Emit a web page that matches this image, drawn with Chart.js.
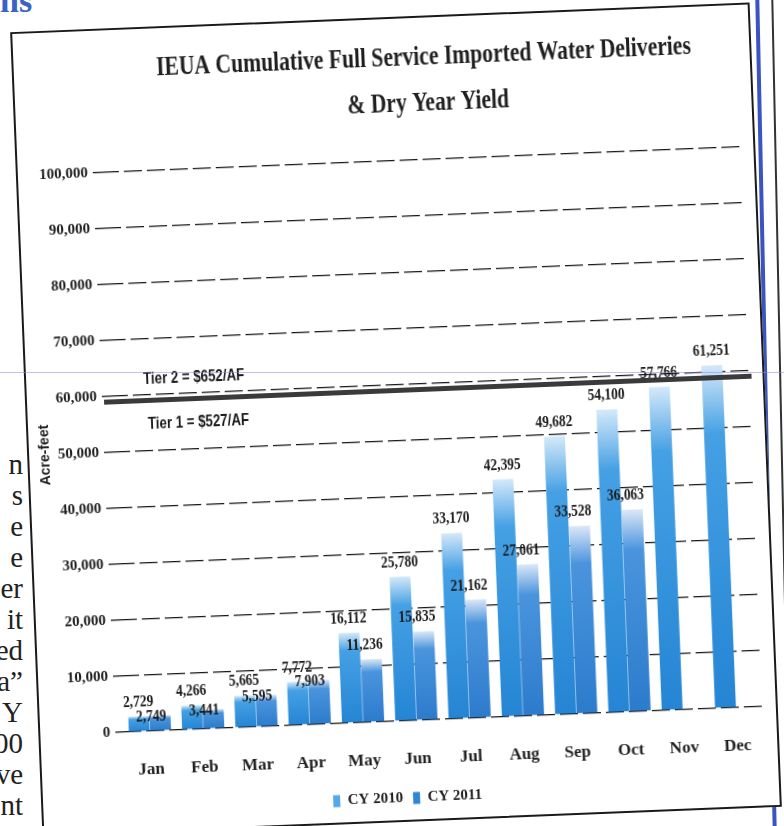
<!DOCTYPE html>
<html>
<head>
<meta charset="utf-8">
<script src="https://cdn.jsdelivr.net/npm/chart.js@4.4.1/dist/chart.umd.min.js"></script>
<style>
  html, body { margin: 0; padding: 0; background: #fff; overflow: hidden; }
  body { width: 784px; height: 826px; position: relative; }
  #heading { position: absolute; left: 0; top: -16px; font: bold 34px "Liberation Serif", serif; color: #3b63c4; line-height: 34px; }
  #sidetext { position: absolute; right: 761px; top: 449px; width: 80px; text-align: right;
              font: 29px "Liberation Serif", serif; line-height: 31px; color: #222; }
  #box { position: absolute; left: 26px; top: 17px; width: 740px; height: 805px; box-sizing: border-box;
         border: 2px solid #1a1a1a; background: #fff; transform: rotate(-2.3deg); }
  #chart { display: block; }
  #blueRule { position: absolute; left: 764px; top: -10px; width: 4px; height: 850px; background: #3a55c0; transform: rotate(-1.2deg); }
  #darkRule { position: absolute; left: 780px; top: -10px; width: 2px; height: 850px; background: #333; transform: rotate(-1.2deg); }
  #scanLine { position: absolute; left: 0; top: 372px; width: 784px; height: 1px; background: rgba(140, 140, 230, 0.55); }
</style>
</head>
<body>
<div id="heading">ns</div>
<div id="sidetext">n<br>s<br>e<br>e<br>er<br>it<br>ed<br>a”<br>Y<br>00<br>ve<br>ent</div>
<div id="blueRule"></div>
<div id="darkRule"></div>
<div id="box"><canvas id="chart" width="736" height="801"></canvas></div>
<div id="scanLine"></div>
<script>
var months = ["Jan", "Feb", "Mar", "Apr", "May", "Jun", "Jul", "Aug", "Sep", "Oct", "Nov", "Dec"];
var cy2010 = [2729, 4266, 5665, 7772, 16112, 25780, 33170, 42395, 49682, 54100, 57766, 61251];
var cy2011 = [2749, 3441, 5595, 7903, 11236, 15835, 21162, 27061, 33528, 36063, null, null];
var yTicks = [0, 10000, 20000, 30000, 40000, 50000, 60000, 70000, 80000, 90000, 100000];
var tierBoundary = 59000;
var tierLabels = ["Tier 2 = $652/AF", "Tier 1 = $527/AF"];
var titleLines = ["IEUA Cumulative Full Service Imported Water Deliveries", "& Dry Year Yield"];

var chart;

function fmt(v) {
    return v.toLocaleString("en-US");
}

// each bar fades to a pale top, like the scanned original
function barFill(light, mid, dark) {
    return function (ctx) {
        if (ctx.type !== "data" || ctx.raw == null) return mid;
        var y = ctx.chart.scales.y;
        if (!y || !ctx.chart.chartArea) return mid;
        var top = y.getPixelForValue(ctx.raw);
        var bottom = y.getPixelForValue(0);
        if (!isFinite(top) || !isFinite(bottom) || bottom - top < 1) return mid;
        var g = ctx.chart.ctx.createLinearGradient(0, top, 0, bottom);
        g.addColorStop(0, light);
        g.addColorStop(0.2, mid);
        g.addColorStop(1, dark);
        return g;
    };
}

// squeezed text, to get the narrow look of the scanned fonts
function narrowText(ctx, text, x, y, squeeze) {
    ctx.save();
    ctx.translate(x, y);
    ctx.scale(squeeze, 1);
    ctx.fillText(text, 0, 0);
    ctx.restore();
}

// the title is a condensed serif in the original, so it is drawn here squeezed
var narrowTitle = {
    id: "narrowTitle",
    afterDraw: function (c) {
        var ctx = c.ctx;
        var cx = c.width / 2 + 42;
        ctx.save();
        ctx.fillStyle = "#1f1f1f";
        ctx.font = "bold 27px 'Liberation Serif', serif";
        ctx.textAlign = "center";
        ctx.textBaseline = "middle";
        narrowText(ctx, titleLines[0], cx, 40, 0.8);
        narrowText(ctx, titleLines[1], cx + 3, 86, 0.8);
        ctx.restore();
    }
};

var tierPlugin = {
    id: "tier",
    afterDatasetsDraw: function (c) {
        var ctx = c.ctx, area = c.chartArea;
        var y = c.scales.y.getPixelForValue(tierBoundary);
        ctx.save();
        ctx.strokeStyle = "#3a3a3a";
        ctx.lineWidth = 5;
        ctx.beginPath();
        ctx.moveTo(area.left - 6, y);
        ctx.lineTo(area.right + 2, y);
        ctx.stroke();
        ctx.fillStyle = "#1a1a1a";
        ctx.font = "bold 17px 'Liberation Sans', sans-serif";
        ctx.textAlign = "left";
        ctx.textBaseline = "middle";
        narrowText(ctx, tierLabels[0], area.left + 34, y - 21, 0.78);
        narrowText(ctx, tierLabels[1], area.left + 37, y + 24, 0.78);
        ctx.restore();
    }
};

var valueLabels = {
    id: "valueLabels",
    afterDatasetsDraw: function (c) {
        var ctx = c.ctx;
        var m0 = c.getDatasetMeta(0), m1 = c.getDatasetMeta(1);
        ctx.save();
        ctx.fillStyle = "#1a1a1a";
        ctx.font = "bold 16px 'Liberation Serif', serif";
        ctx.textAlign = "center";
        ctx.textBaseline = "bottom";
        m0.data.forEach(function (bar, i) {
            if (cy2010[i] == null) return;
            narrowText(ctx, fmt(cy2010[i]), bar.x, bar.y - 6, 0.84);
        });
        m1.data.forEach(function (bar, i) {
            if (cy2011[i] == null) return;
            var above = bar.y - 6;
            // drop the label onto the bar top when it would collide with the CY 2010 label
            var other = m0.data[i].y - 6;
            if (Math.abs(other - above) < 16) {
                ctx.textBaseline = "middle";
                narrowText(ctx, fmt(cy2011[i]), bar.x - 9, bar.y + 1, 0.84);
                ctx.textBaseline = "bottom";
            } else {
                narrowText(ctx, fmt(cy2011[i]), bar.x - 6, above, 0.84);
            }
        });
        ctx.restore();
    }
};

function setup() {
    chart = new Chart(document.getElementById("chart"), {
        type: "bar",
        data: {
            labels: months,
            datasets: [{
                label: "CY 2010",
                data: cy2010,
                backgroundColor: barFill("#d4e9f9", "#45a0e4", "#2585d4"),
                legendColor: "#56a9e8"
            }, {
                label: "CY 2011",
                data: cy2011,
                backgroundColor: barFill("#dbe7f7", "#4a94dd", "#2c7bcc"),
                legendColor: "#2f86d6"
            }]
        },
        options: {
            responsive: false,
            animation: false,
            categoryPercentage: 0.8,
            barPercentage: 0.98,
            layout: { padding: { top: 142, right: 13, bottom: 4, left: 6 } },
            plugins: {
                title: { display: false },
                legend: {
                    position: "bottom",
                    labels: {
                        color: "#1f1f1f",
                        font: { family: "'Liberation Serif', serif", weight: "bold", size: 15 },
                        boxWidth: 7,
                        boxHeight: 12,
                        padding: 10,
                        generateLabels: function (c) {
                            return c.data.datasets.map(function (ds, i) {
                                return {
                                    text: ds.label, fillStyle: ds.legendColor, strokeStyle: ds.legendColor,
                                    lineWidth: 0, hidden: false, datasetIndex: i, fontColor: "#1f1f1f"
                                };
                            });
                        }
                    }
                },
                tooltip: { enabled: false }
            },
            scales: {
                x: {
                    grid: { display: false },
                    border: { display: false },
                    ticks: {
                        color: "#1f1f1f",
                        padding: 20,
                        font: { family: "'Liberation Serif', serif", weight: "bold", size: 17 }
                    },
                    afterFit: function (s) { s.height = 60; }
                },
                y: {
                    min: 0,
                    max: 100000,
                    afterBuildTicks: function (s) {
                        s.ticks = yTicks.map(function (v) { return { value: v }; });
                    },
                    grid: { color: "#161616", lineWidth: 1.3, tickLength: 8 },
                    border: { display: false, dash: [18, 5] },
                    ticks: {
                        color: "#1f1f1f",
                        padding: 5,
                        font: { family: "'Liberation Serif', serif", weight: "bold", size: 15 },
                        callback: function (v) { return fmt(v); }
                    },
                    title: {
                        display: true,
                        text: "Acre-feet",
                        color: "#1f1f1f",
                        padding: { top: 2, bottom: 0 },
                        font: { family: "'Liberation Sans', sans-serif", weight: "bold", size: 14 }
                    },
                    afterFit: function (s) { s.width = 77; }
                }
            }
        },
        plugins: [narrowTitle, tierPlugin, valueLabels]
    });
}

setup();
</script>
</body>
</html>
